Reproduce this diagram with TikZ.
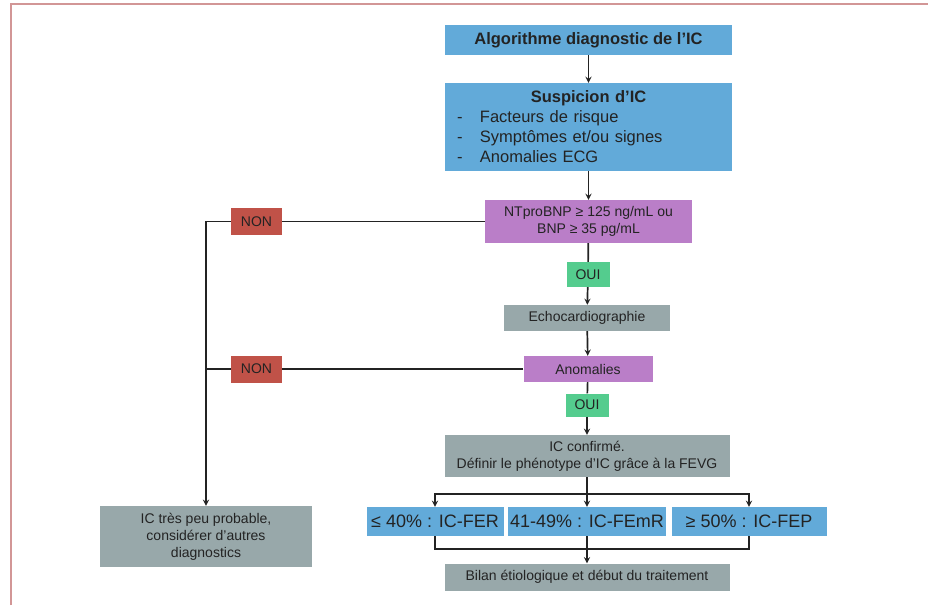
\documentclass[tikz,border=0pt]{standalone}
\usepackage{fontspec}
\setmainfont{Liberation Sans}
\definecolor{bleuic}{RGB}{98,170,217}
\definecolor{mauveic}{RGB}{186,126,200}
\definecolor{rougeic}{RGB}{192,82,72}
\definecolor{vertic}{RGB}{84,204,142}
\definecolor{grisic}{RGB}{152,168,170}
\definecolor{cadreic}{RGB}{210,150,150}
\definecolor{texteic}{RGB}{35,35,35}
\newcommand{\tiret}{\makebox[23pt][l]{-}}
\begin{document}
\begin{tikzpicture}[x=1pt,y=-1pt]
\tikzstyle{boite} = [rectangle, inner sep=2pt, align=center, text=texteic, font=\fontsize{14}{17}\selectfont]
\tikzstyle{boitebleue} = [boite, fill=bleuic]
\tikzstyle{boitemauve} = [boite, fill=mauveic]
\tikzstyle{boiterouge} = [boite, fill=rougeic, minimum width=51pt, minimum height=27pt]
\tikzstyle{boiteverte} = [boite, fill=vertic, minimum width=43pt]
\tikzstyle{boitegrise} = [boite, fill=grisic]
\tikzstyle{fleche} = [-stealth, line width=1.7pt, draw=texteic]
\tikzstyle{trait} = [line width=1.7pt, draw=texteic]
\useasboundingbox (0,0) rectangle (928,605);
\draw[line width=1.8pt, cadreic] (11,605) -- (11,4) -- (928,4);

\node [boitebleue, minimum width=287pt, minimum height=30pt, font=\fontsize{16.5}{19}\selectfont\bfseries] (titre) at (588.5,40) {Algorithme diagnostic de l'IC};
\node [boitebleue, minimum width=287pt, minimum height=88pt, text width=263pt, inner xsep=12pt, align=left, font=\fontsize{16.5}{20}\selectfont] (suspicion) at (588.5,127)
	{{\centering\textbf{Suspicion d'IC}\par}\tiret Facteurs de risque\\\tiret Symptômes et/ou signes\\\tiret Anomalies ECG};
\node [boitemauve, minimum width=207pt, minimum height=43pt] (ntpro) at (588.5,221.5) {NTproBNP ≥ 125 ng/mL ou\\BNP ≥ 35 pg/mL};
\node [boiteverte, minimum height=25pt] (oui1) at (588,274.5) {OUI};
\node [boitegrise, minimum width=166pt, minimum height=26pt] (echo) at (587,318) {Echocardiographie};
\node [boitemauve, minimum width=129pt, minimum height=26pt] (anomalies) at (588,369) {Anomalies};
\node [boiterouge] (non1) at (256.5,221.5) {NON};
\node [boiterouge] (non2) at (256.5,369) {NON};
\node [boiteverte, minimum height=23pt] (oui2) at (587,405) {OUI};
\node [boitegrise, minimum width=285pt, minimum height=42pt] (confirme) at (587,456) {IC confirmé.\\Définir le phénotype d'IC grâce à la FEVG};
\node [boitebleue, minimum width=137pt, minimum height=29pt, font=\fontsize{18}{21}\selectfont] (fer) at (435,521.5) {≤ 40\% : IC-FER};
\node [boitebleue, minimum width=158pt, minimum height=29pt, font=\fontsize{18}{21}\selectfont] (femr) at (587,521.5) {41-49\% : IC-FEmR};
\node [boitebleue, minimum width=155pt, minimum height=29pt, font=\fontsize{18}{21}\selectfont] (fep) at (749,521.5) {≥ 50\% : IC-FEP};
\node [boitegrise, minimum width=285pt, minimum height=27pt] (bilan) at (587,577) {Bilan étiologique et début du traitement};
\node [boitegrise, minimum width=212pt, minimum height=61pt] (improbable) at (206,536.5) {IC très peu probable,\\considérer d'autres\\diagnostics};
\coordinate (fourche) at (587,494);
\coordinate (jonction) at (587,549);

\draw [fleche] (titre) -- (suspicion);
\draw [fleche] (suspicion) -- (ntpro);
\draw [trait] (ntpro) -- (oui1);
\draw [fleche] (oui1) -- (echo);
\draw [fleche] (echo) -- (anomalies);
\draw [trait] (anomalies) -- (oui2);
\draw [fleche] (oui2) -- (confirme);
\draw [trait] (ntpro) -- (non1);
\draw [fleche] (non1) -- (non1 -| improbable) -- (improbable);
\draw [trait] (anomalies) -- (non2) -- (non2 -| improbable);
\draw [trait] (confirme) -- (fourche);
\draw [fleche] (fourche) -| (fer);
\draw [fleche] (fourche) -- (femr);
\draw [fleche] (fourche) -| (fep);
\draw [trait] (fer) |- (jonction);
\draw [trait] (fep) |- (jonction);
\draw [fleche] (femr) -- (bilan);
\end{tikzpicture}
\end{document}
